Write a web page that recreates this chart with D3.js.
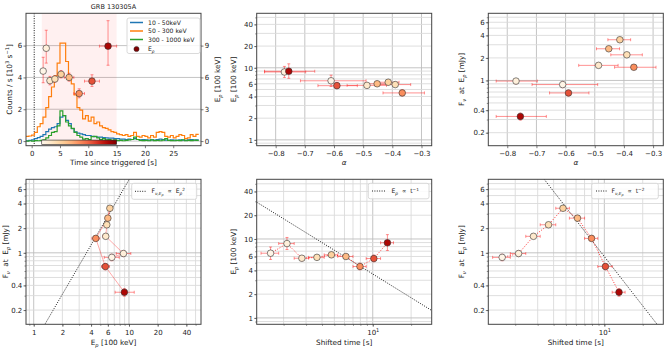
<!DOCTYPE html>
<html>
<head>
<meta charset="utf-8">
<script src="https://cdn.jsdelivr.net/npm/d3@7"></script>
<style>
body{margin:0;background:#fff}
text{font-family:"DejaVu Sans",sans-serif;white-space:pre}
</style>
</head>
<body>
<div id="chart"></div>
<script>
// ---- spectral bins (observed time edges, s) and fitted values ----
var binEdges = [1.78, 2.28, 2.87, 3.59, 4.61, 5.77, 7.45, 9.33, 11.97, 15.0];
var tZero = 0.45;                       // dotted line / time shift
var epVal = [6.6, 8.75, 5.7, 5.85, 6.3, 6.0, 4.48, 5.65, 8.95];   // 100 keV
var epLo  = [1.1, 1.4, 0.4, 0.3, 0.35, 0.35, 0.4, 0.5, 1.8];
var epHi  = [1.3, 1.7, 0.4, 0.3, 0.35, 0.4, 0.45, 0.6, 2.4];
var alphaVal = [-0.61, -0.77, -0.487, -0.39, -0.414, -0.452, -0.366, -0.59, -0.755];
var alphaMin = [-0.715, -0.838, -0.555, -0.445, -0.455, -0.494, -0.432, -0.655, -0.838];
var alphaMax = [-0.49, -0.697, -0.42, -0.337, -0.377, -0.415, -0.29, -0.52, -0.666];
var fluxVal = [0.88, 0.98, 1.59, 2.2, 3.5, 2.65, 1.5, 0.68, 0.33];  // mJy
var fluxErr = [0.08, 0.08, 0.1, 0.12, 0.15, 0.12, 0.1, 0.06, 0.035];

// ---- light curves, 0.5 s bins starting at -1 s (10^3 counts/s) ----
var lcStart = -1, lcStep = 0.5;
var lcLow = [0.02,0.05,0.08,0.15,0.22,0.30,0.40,0.60,0.75,0.85,
             0.90,1.10,1.50,1.60,1.30,1.10,0.78,0.58,0.50,0.45,
             0.40,0.35,0.35,0.30,0.28,0.25,0.25,0.22,0.20,0.18,
             0.18,0.15,0.15,0.12,0.12,0.10,0.12,0.10,0.15,0.10,
             0.08,0.10,0.08,0.06,0.08,0.06,0.10,0.12,0.10,0.06,
             0.05,0.08,0.06,0.05,0.08,0.06,0.05,0.08,0.10,0.06,0.08];
var lcMid = [0.30,0.32,0.38,0.55,0.90,1.10,1.50,2.10,2.80,3.40,
             4.10,4.90,6.15,6.15,5.00,4.10,3.60,2.90,2.10,1.95,
             1.40,1.60,1.25,1.50,1.10,1.20,0.95,0.85,0.80,0.70,
             0.60,0.55,0.45,0.40,0.35,0.40,0.30,0.35,0.55,0.30,
             0.25,0.35,0.30,0.20,0.35,0.25,0.55,0.60,0.55,0.30,
             0.25,0.35,0.20,0.30,0.40,0.35,0.15,0.20,0.40,0.30,0.42];
var lcHigh = [0.00,0.02,0.00,0.03,0.02,0.05,0.08,0.20,0.35,0.55,
              0.60,0.95,1.90,1.60,1.20,0.95,0.80,0.55,0.35,0.25,
              0.12,0.15,0.10,0.28,0.30,0.20,0.10,0.15,0.08,0.10,
              0.05,0.08,0.03,0.05,0.02,0.05,0.08,0.10,0.25,0.10,
              0.05,0.03,0.05,0.02,0.08,0.03,0.05,0.02,0.06,0.15,
              0.05,0.03,0.02,0.05,0.03,0.08,0.02,0.05,0.03,0.06,0.04];
var lcNames = ["10 - 50keV", "50 - 300 keV", "300 - 1000 keV"];
var lcColors = ["#1f77b4", "#ff7f0e", "#2ca02c"];

// reference power laws
var kEp2 = 0.078;   // F ~ Ep^2
var kT1 = 36;       // Ep ~ t^-1
var kT2 = 90;       // F ~ t^-2

// ---- axis ranges ----
var epDom = [0.83, 57], fluxDom = [0.134, 7.9], alphaDom = [-0.865, -0.265], tsDom = [1.23, 29];

var W = 670, H = 352;
var svg = d3.select("#chart").append("svg").attr("width", W).attr("height", H);
var defs = svg.append("defs");

var cols = [26, 256.7, 488.3], colW = 175;
var rows = [[13.3, 132.4], [179.3, 145]];

function panel(id, c, r){
    var p = {x0: cols[c], y0: rows[r][0], w: colW, h: rows[r][1]};
    defs.append("clipPath").attr("id", "clip" + id).append("rect")
        .attr("x", p.x0).attr("y", p.y0).attr("width", p.w).attr("height", p.h);
    p.g = svg.append("g");
    p.grid = p.g.append("g");
    p.plot = p.g.append("g").attr("clip-path", "url(#clip" + id + ")");
    return p;
}

function logVals(dom){
    var out = [];
    for(var d = Math.floor(Math.log10(dom[0])); d <= Math.ceil(Math.log10(dom[1])); d++){
        for(var k = 1; k < 10; k++){
            var v = k * Math.pow(10, d);
            if(v >= dom[0] && v <= dom[1]) out.push({v: v, major: k == 1});
        }
    }
    return out;
}

function gridX(p, sc, vals){
    vals.forEach(function(o){
        p.grid.append("line").attr("x1", sc(o.v)).attr("x2", sc(o.v))
            .attr("y1", p.y0).attr("y2", p.y0 + p.h)
            .attr("stroke", o.major ? "#bdbdbd" : "#dadada").attr("stroke-width", 0.9);
    });
}
function gridY(p, sc, vals){
    vals.forEach(function(o){
        p.grid.append("line").attr("y1", sc(o.v)).attr("y2", sc(o.v))
            .attr("x1", p.x0).attr("x2", p.x0 + p.w)
            .attr("stroke", o.major ? "#bdbdbd" : "#dadada").attr("stroke-width", 0.9);
    });
}

function axis(p, orient, sc, vals, fmt, minor){
    var mk = orient == "bottom" ? d3.axisBottom : (orient == "left" ? d3.axisLeft : d3.axisRight);
    var tr = orient == "bottom" ? "translate(0," + (p.y0 + p.h) + ")" :
        "translate(" + (orient == "left" ? p.x0 : p.x0 + p.w) + ",0)";
    if(minor){
        var gm = p.g.append("g").attr("transform", tr)
            .call(mk(sc).tickValues(minor).tickFormat("").tickSize(1.5));
        gm.select(".domain").remove();
        gm.selectAll("line").attr("stroke", "#444").attr("stroke-width", 0.6);
    }
    var g = p.g.append("g").attr("transform", tr)
        .call(mk(sc).tickValues(vals).tickFormat(fmt).tickSize(2.5).tickPadding(orient == "bottom" ? 3 : 1.2));
    g.select(".domain").remove();
    g.selectAll("line").attr("stroke", "#444").attr("stroke-width", 0.7);
    g.selectAll("text").attr("font-size", 7).attr("font-family", "DejaVu Sans").attr("fill", "#222");
    return g;
}

function frame(p){
    p.g.append("rect").attr("x", p.x0).attr("y", p.y0).attr("width", p.w).attr("height", p.h)
        .attr("fill", "none").attr("stroke", "#444").attr("stroke-width", 1);
}

// rich text: parts = [text, level, italic]; level 0 normal, -1 sub, -2 subsub, 1 sup
function rich(g, x, y, parts, size, anchor, rot){
    var t = g.append("text").attr("font-size", size).attr("fill", "#222")
        .attr("text-anchor", anchor || "start");
    if(rot) t.attr("transform", "translate(" + x + "," + y + ") rotate(-90)");
    else t.attr("x", x).attr("y", y);
    var cur = 0;
    parts.forEach(function(pt){
        var lvl = pt[1] || 0;
        var off = lvl == 0 ? 0 : (lvl == -1 ? size * 0.28 : (lvl == -2 ? size * 0.5 : -size * 0.4));
        var fs = lvl == 0 ? size : (lvl == -2 ? size * 0.55 : size * 0.7);
        var ts = t.append("tspan").attr("dy", off - cur).attr("font-size", fs).text(pt[0]);
        if(pt[2]) ts.attr("font-style", "italic");
        cur = off;
    });
    return t;
}

function legendBox(p, x, y, w, h){
    p.g.append("rect").attr("x", x).attr("y", y).attr("width", w).attr("height", h).attr("rx", 2)
        .attr("fill", "#fff").attr("fill-opacity", 0.85).attr("stroke", "#d0d0d0").attr("stroke-width", 0.8);
}

// ---- derived per-point info ----
var cmap = d3.interpolateOrRd;
var pts = epVal.map(function(e, i){
    var a = binEdges[i], b = binEdges[i + 1], tc = (a + b) / 2;
    return {i: i, tA: a, tB: b, t: tc, ts: tc - tZero, tsA: a - tZero, tsB: b - tZero,
        ep: e, epA: e - epLo[i], epB: e + epHi[i],
        al: alphaVal[i], alA: alphaMin[i], alB: alphaMax[i],
        f: fluxVal[i], fA: fluxVal[i] - fluxErr[i], fB: fluxVal[i] + fluxErr[i],
        col: cmap((tc - binEdges[0]) / (binEdges[binEdges.length - 1] - binEdges[0]))};
});

function errbars(p, sx, sy, kx, ky, kxA, kxB, kyA, kyB){
    var g = p.plot.append("g").attr("stroke", "#ff2020").attr("stroke-opacity", 0.55).attr("stroke-width", 0.9);
    pts.forEach(function(d){
        var x = sx(d[kx]), y = sy(d[ky]);
        if(kxA){
            g.append("line").attr("x1", sx(d[kxA])).attr("x2", sx(d[kxB])).attr("y1", y).attr("y2", y);
            [kxA, kxB].forEach(function(k){
                g.append("line").attr("x1", sx(d[k])).attr("x2", sx(d[k])).attr("y1", y - 1.5).attr("y2", y + 1.5);
            });
        }
        if(kyA){
            g.append("line").attr("y1", sy(d[kyA])).attr("y2", sy(d[kyB])).attr("x1", x).attr("x2", x);
            [kyA, kyB].forEach(function(k){
                g.append("line").attr("y1", sy(d[k])).attr("y2", sy(d[k])).attr("x1", x - 1.5).attr("x2", x + 1.5);
            });
        }
    });
}
function connect(p, sx, sy, kx, ky, dotted){
    p.plot.append("path").datum(pts)
        .attr("d", d3.line().x(function(d){ return sx(d[kx]); }).y(function(d){ return sy(d[ky]); }))
        .attr("fill", "none").attr("stroke", "#ff2020")
        .attr("stroke-opacity", dotted ? 0.9 : 0.55).attr("stroke-width", dotted ? 1 : 0.7)
        .attr("stroke-dasharray", dotted ? "1,1.6" : null);
}
function markers(p, sx, sy, kx, ky){
    p.plot.append("g").selectAll("circle").data(pts).enter().append("circle")
        .attr("cx", function(d){ return sx(d[kx]); }).attr("cy", function(d){ return sy(d[ky]); })
        .attr("r", 3.3).attr("fill", function(d){ return d.col; })
        .attr("stroke", "#333").attr("stroke-width", 0.6);
}
function refLine(p, sx, sy, dom, fn){
    var arr = [dom[0], dom[1]];
    p.plot.append("path").datum(arr)
        .attr("d", d3.line().x(function(v){ return sx(v); }).y(function(v){ return sy(fn(v)); }))
        .attr("fill", "none").attr("stroke", "#222").attr("stroke-width", 1).attr("stroke-dasharray", "1,1.4");
}

var epLabel = [["E"], ["p", -1, true], [" [100 keV]"]];
var fluxLabel = [["F"], ["ν", -1, true], ["  at  E"], ["p", -1, true], [" [mJy]"]];
var fmtG = d3.format("~g");
var epTicks = [1, 2, 4, 6, 10, 20, 40], fluxTicks = [0.2, 0.4, 1, 2, 4, 6];

// ================= panel 1: light curve =================
(function(){
    var p = panel(1, 0, 0);
    var x = d3.scaleLinear().domain([-1, 29.9]).range([p.x0, p.x0 + p.w]);
    var y = d3.scaleLinear().domain([-0.29, 8.03]).range([p.y0 + p.h, p.y0]);
    var yR = d3.scaleLinear().domain([-0.29 * 1.5, 8.03 * 1.5]).range([p.y0 + p.h, p.y0]);
    gridY(p, y, [0, 2, 4, 6].map(function(v){ return {v: v, major: true}; }));

    p.plot.append("rect").attr("x", x(binEdges[0])).attr("width", x(binEdges[binEdges.length - 1]) - x(binEdges[0]))
        .attr("y", p.y0).attr("height", p.h).attr("fill", "#ff0000").attr("fill-opacity", 0.06);
    p.plot.append("line").attr("x1", x(tZero)).attr("x2", x(tZero)).attr("y1", p.y0).attr("y2", p.y0 + p.h)
        .attr("stroke", "#111").attr("stroke-width", 1).attr("stroke-dasharray", "1,1.4");

    [lcLow, lcMid, lcHigh].forEach(function(arr, k){
        var dat = arr.map(function(v, i){ return [lcStart + i * lcStep, v]; });
        dat.push([lcStart + arr.length * lcStep, arr[arr.length - 1]]);
        p.plot.append("path").datum(dat)
            .attr("d", d3.line().curve(d3.curveStepAfter).x(function(d){ return x(d[0]); }).y(function(d){ return y(d[1]); }))
            .attr("fill", "none").attr("stroke", lcColors[k]).attr("stroke-width", 1.2);
    });

    // colour bar of the spectral interval
    var grad = defs.append("linearGradient").attr("id", "cbar");
    d3.range(0, 1.0001, 0.1).forEach(function(s){
        grad.append("stop").attr("offset", s).attr("stop-color", cmap(s));
    });
    p.plot.append("rect").attr("x", x(binEdges[0])).attr("width", x(binEdges[binEdges.length - 1]) - x(binEdges[0]))
        .attr("y", y(0) - 1).attr("height", 4.3).attr("fill", "url(#cbar)").attr("stroke", "#222").attr("stroke-width", 0.6);

    errbars(p, x, yR, "t", "ep", "tA", "tB", "epA", "epB");
    markers(p, x, yR, "t", "ep");

    frame(p);
    axis(p, "bottom", x, [0, 5, 10, 15, 20, 25], fmtG);
    axis(p, "left", y, [0, 2, 4, 6], fmtG);
    axis(p, "right", yR, [0, 3, 6, 9], fmtG);

    rich(svg, p.x0 + p.w / 2, 164.5, [["Time since triggered [s]"]], 7.3, "middle");
    rich(svg, 12, p.y0 + p.h / 2, [["Counts / s [10"], ["3", 1], [" s"], ["−1", 1], ["]"]], 7.3, "middle", true);
    rich(svg, 219.5, p.y0 + p.h / 2, epLabel, 7.3, "middle", true);
    rich(svg, p.x0 + p.w / 2, 9, [["GRB 130305A"]], 6.5, "middle");

    legendBox(p, 127, 18, 73, 35.5);
    var ly = [22.5, 31, 39.5];
    lcNames.forEach(function(nm, k){
        p.g.append("line").attr("x1", 130).attr("x2", 143).attr("y1", ly[k]).attr("y2", ly[k])
            .attr("stroke", lcColors[k]).attr("stroke-width", 1.5);
        rich(p.g, 148, ly[k] + 2.1, [[nm]], 6.1);
    });
    p.g.append("circle").attr("cx", 136.5).attr("cy", 49).attr("r", 2.6).attr("fill", cmap(1)).attr("stroke", "#333").attr("stroke-width", 0.5);
    rich(p.g, 148, 51.1, [["E"], ["p", -1, true]], 6.1);
})();

// ================= panel 2: Ep vs alpha =================
(function(){
    var p = panel(2, 1, 0);
    var x = d3.scaleLinear().domain(alphaDom).range([p.x0, p.x0 + p.w]);
    var y = d3.scaleLog().domain(epDom).range([p.y0 + p.h, p.y0]);
    var xt = [-0.8, -0.7, -0.6, -0.5, -0.4, -0.3];
    gridX(p, x, xt.map(function(v){ return {v: v, major: true}; }));
    gridY(p, y, logVals(epDom));
    errbars(p, x, y, "al", "ep", "alA", "alB", "epA", "epB");
    markers(p, x, y, "al", "ep");
    frame(p);
    axis(p, "bottom", x, xt, d3.format(".1f"));
    axis(p, "left", y, epTicks, fmtG, logVals(epDom).map(function(o){ return o.v; }));
    rich(svg, p.x0 + p.w / 2, 165, [["α", 0, true]], 7.3, "middle");
    rich(svg, 236, p.y0 + p.h / 2, epLabel, 7.3, "middle", true);
})();

// ================= panel 3: flux vs alpha =================
(function(){
    var p = panel(3, 2, 0);
    var x = d3.scaleLinear().domain(alphaDom).range([p.x0, p.x0 + p.w]);
    var y = d3.scaleLog().domain(fluxDom).range([p.y0 + p.h, p.y0]);
    var xt = [-0.8, -0.7, -0.6, -0.5, -0.4, -0.3];
    gridX(p, x, xt.map(function(v){ return {v: v, major: true}; }));
    gridY(p, y, logVals(fluxDom));
    errbars(p, x, y, "al", "f", "alA", "alB", "fA", "fB");
    markers(p, x, y, "al", "f");
    frame(p);
    axis(p, "bottom", x, xt, d3.format(".1f"));
    axis(p, "left", y, fluxTicks, fmtG, logVals(fluxDom).map(function(o){ return o.v; }));
    rich(svg, p.x0 + p.w / 2, 165, [["α", 0, true]], 7.3, "middle");
    rich(svg, 464, p.y0 + p.h / 2, fluxLabel, 7.3, "middle", true);
})();

// ================= panel 4: flux vs Ep =================
(function(){
    var p = panel(4, 0, 1);
    var x = d3.scaleLog().domain(epDom).range([p.x0, p.x0 + p.w]);
    var y = d3.scaleLog().domain(fluxDom).range([p.y0 + p.h, p.y0]);
    gridX(p, x, logVals(epDom));
    gridY(p, y, logVals(fluxDom));
    refLine(p, x, y, epDom, function(e){ return kEp2 * e * e; });
    connect(p, x, y, "ep", "f", false);
    errbars(p, x, y, "ep", "f", "epA", "epB", "fA", "fB");
    markers(p, x, y, "ep", "f");
    frame(p);
    axis(p, "bottom", x, epTicks, fmtG, logVals(epDom).map(function(o){ return o.v; }));
    axis(p, "left", y, fluxTicks, fmtG, logVals(fluxDom).map(function(o){ return o.v; }));
    rich(svg, p.x0 + p.w / 2, 344.5, epLabel, 7.3, "middle");
    rich(svg, 8, p.y0 + p.h / 2, fluxLabel, 7.3, "middle", true);
    legendBox(p, 131.7, 183.3, 65, 16);
    p.g.append("line").attr("x1", 135).attr("x2", 147).attr("y1", 191.3).attr("y2", 191.3)
        .attr("stroke", "#222").attr("stroke-width", 1).attr("stroke-dasharray", "1,1.4");
    rich(p.g, 151.5, 193.3, [["F"], ["ν,E", -1, true], ["p", -2, true], ["  ∝  E"], ["p", -1, true], ["2", 1]], 6.1);
})();

// ================= panel 5: Ep vs shifted time =================
(function(){
    var p = panel(5, 1, 1);
    var x = d3.scaleLog().domain(tsDom).range([p.x0, p.x0 + p.w]);
    var y = d3.scaleLog().domain(epDom).range([p.y0 + p.h, p.y0]);
    gridX(p, x, logVals(tsDom));
    gridY(p, y, logVals(epDom));
    refLine(p, x, y, tsDom, function(t){ return kT1 / t; });
    connect(p, x, y, "ts", "ep", true);
    errbars(p, x, y, "ts", "ep", "tsA", "tsB", "epA", "epB");
    markers(p, x, y, "ts", "ep");
    frame(p);
    var g = axis(p, "bottom", x, [10], function(){ return "10"; }, logVals(tsDom).map(function(o){ return o.v; }));
    g.selectAll("text").append("tspan").attr("dy", -3).attr("font-size", 5).text("1");
    axis(p, "left", y, epTicks, fmtG, logVals(epDom).map(function(o){ return o.v; }));
    rich(svg, p.x0 + p.w / 2, 344.5, [["Shifted time [s]"]], 7.3, "middle");
    rich(svg, 236, p.y0 + p.h / 2, epLabel, 7.3, "middle", true);
    legendBox(p, 368.3, 183.3, 60.7, 15.5);
    p.g.append("line").attr("x1", 372).attr("x2", 385).attr("y1", 191).attr("y2", 191)
        .attr("stroke", "#222").attr("stroke-width", 1).attr("stroke-dasharray", "1,1.4");
    rich(p.g, 391.5, 193.2, [["E"], ["p", -1, true], ["  ∝  t"], ["−1", 1]], 6.1);
})();

// ================= panel 6: flux vs shifted time =================
(function(){
    var p = panel(6, 2, 1);
    var x = d3.scaleLog().domain(tsDom).range([p.x0, p.x0 + p.w]);
    var y = d3.scaleLog().domain(fluxDom).range([p.y0 + p.h, p.y0]);
    gridX(p, x, logVals(tsDom));
    gridY(p, y, logVals(fluxDom));
    refLine(p, x, y, tsDom, function(t){ return kT2 / (t * t); });
    connect(p, x, y, "ts", "f", true);
    errbars(p, x, y, "ts", "f", "tsA", "tsB", "fA", "fB");
    markers(p, x, y, "ts", "f");
    frame(p);
    var g = axis(p, "bottom", x, [10], function(){ return "10"; }, logVals(tsDom).map(function(o){ return o.v; }));
    g.selectAll("text").append("tspan").attr("dy", -3).attr("font-size", 5).text("1");
    axis(p, "left", y, fluxTicks, fmtG, logVals(fluxDom).map(function(o){ return o.v; }));
    rich(svg, p.x0 + p.w / 2, 344.5, [["Shifted time [s]"]], 7.3, "middle");
    rich(svg, 464, p.y0 + p.h / 2, fluxLabel, 7.3, "middle", true);
    legendBox(p, 591.7, 183.3, 66.6, 15.5);
    p.g.append("line").attr("x1", 596).attr("x2", 607).attr("y1", 191).attr("y2", 191)
        .attr("stroke", "#222").attr("stroke-width", 1).attr("stroke-dasharray", "1,1.4");
    rich(p.g, 611.5, 193.2, [["F"], ["ν,E", -1, true], ["p", -2, true], ["  ∝  t"], ["−2", 1]], 6.1);
})();
</script>
</body>
</html>
